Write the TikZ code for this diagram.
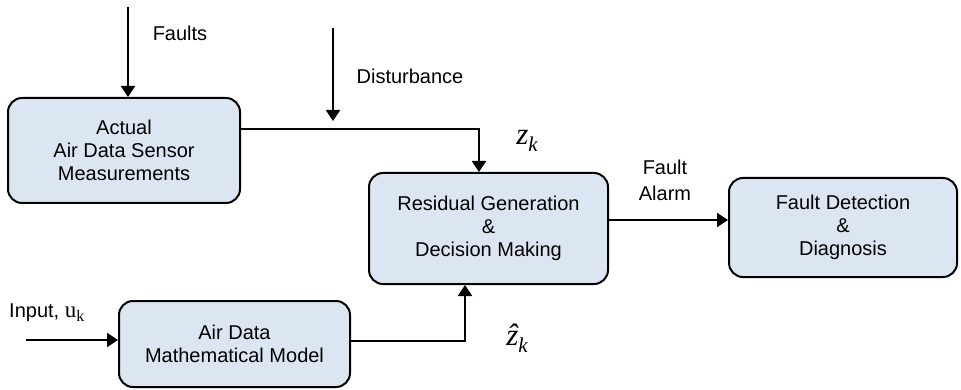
\documentclass[tikz,border=0pt]{standalone}
\usepackage{fontspec}
\setmainfont{Liberation Sans}
\newfontfamily\tms{Liberation Serif}
\usetikzlibrary{arrows.meta}
\definecolor{boxfill}{RGB}{220,230,242}
\tikzset{
  blk/.style={draw, line width=2pt, rounded corners=14pt, fill=boxfill, align=center,
    inner sep=0pt, font=\fontsize{20}{23}\selectfont},
  arr/.style={line width=2pt, -{Triangle[length=11pt,width=14pt]}},
  lbl/.style={align=center, font=\fontsize{20}{26}\selectfont, inner sep=0pt},
  mth/.style={inner sep=0pt, font=\fontsize{31}{31}\tms\itshape},
}
\newcommand{\subk}{\raisebox{-7pt}{\fontsize{21}{21}\selectfont k}}
\begin{document}
\begin{tikzpicture}[x=1pt,y=-1pt]
\useasboundingbox (0,0) rectangle (961,390);
\node[blk, minimum width=232pt, minimum height=105pt] (b1) at (124,150.5) {Actual\\Air Data Sensor\\Measurements};
\node[blk, minimum width=239pt, minimum height=111pt] (b2) at (488.5,228.5) {Residual Generation\\\&\\Decision Making};
\node[blk, minimum width=231pt, minimum height=86pt] (b3) at (234.5,344) {Air Data\\Mathematical Model};
\node[blk, minimum width=228pt, minimum height=99pt] (b4) at (843,227.5) {Fault Detection\\\&\\Diagnosis};

\node[lbl] (lf) at (180,33) {Faults};
\node[lbl] (ld) at (410,76) {Disturbance};
\node[lbl] (la) at (665,180) {Fault\\Alarm};
\node[lbl, anchor=west] (li) at (9,313) {Input, {\tms\fontsize{23}{23}\selectfont u\raisebox{-4pt}{\fontsize{16}{16}\selectfont k}}};
\node[mth] (lz) at (527,141) {z\subk};
\node[mth] (lzh) at (517,338) {\^z\subk};

\coordinate (fa) at (128,7);
\coordinate (ds) at (333,28);
\coordinate (de) at (333,121);
\coordinate (j1) at (479,129);
\coordinate (j2) at (465,341);
\coordinate (j3) at (0,220);
\coordinate (inp) at (26,340);

\draw[arr] (fa) -- (fa |- b1.north);
\draw[arr] (ds) -- (de);
\draw[arr] (b1.east |- j1) -- (j1) -- (j1 |- b2.north);
\draw[arr] (b3.east |- j2) -- (j2) -- (j2 |- b2.south);
\draw[arr] (b2.east |- j3) -- (b4.west |- j3);
\draw[arr] (inp) -- (b3.west |- inp);
\end{tikzpicture}
\end{document}
